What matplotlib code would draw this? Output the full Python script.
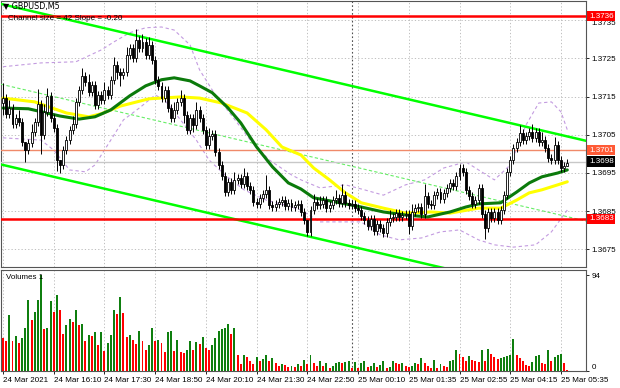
import numpy as np
import matplotlib.pyplot as plt
import matplotlib.transforms as mtransforms

plt.rcParams['font.family'] = ['Liberation Sans', 'DejaVu Sans']

# GBPUSD M5 bars, 24 Mar 2021 14:50 -> 25 Mar 05:40
first_open = 1.37133
close = [
    1.37146, 1.37105, 1.37120, 1.37078, 1.37094, 1.37084, 1.37031, 1.37010, 1.37029, 1.37057,
    1.37084, 1.37131, 1.37050, 1.37110, 1.37152, 1.37094, 1.37068, 1.36984, 1.36971, 1.37010,
    1.37036, 1.37063, 1.37078, 1.37136, 1.37167, 1.37204, 1.37188, 1.37162, 1.37180, 1.37128,
    1.37154,
    1.37141, 1.37167, 1.37154, 1.37194, 1.37233, 1.37215, 1.37207, 1.37215, 1.37259, 1.37277,
    1.37251, 1.37298, 1.37277, 1.37293, 1.37259, 1.37285, 1.37246, 1.37194, 1.37178, 1.37146,
    1.37167, 1.37120, 1.37094, 1.37115, 1.37136, 1.37146, 1.37102, 1.37063, 1.37094, 1.37076,
    1.37115, 1.37094, 1.37063, 1.37023, 1.37047, 1.37052, 1.37005, 1.36971, 1.36942, 1.36900,
    1.36926, 1.36906, 1.36932, 1.36937, 1.36921, 1.36942, 1.36916, 1.36906, 1.36874, 1.36869,
    1.36885, 1.36895, 1.36906, 1.36866, 1.36861, 1.36869, 1.36874, 1.36879, 1.36864, 1.36872,
    1.36861, 1.36866, 1.36869,
    1.36848, 1.36827, 1.36796, 1.36853, 1.36874, 1.36866, 1.36869, 1.36879, 1.36858, 1.36866,
    1.36879, 1.36885, 1.36872, 1.36892, 1.36872, 1.36866, 1.36869, 1.36858, 1.36853, 1.36838,
    1.36827, 1.36811, 1.36830, 1.36798, 1.36817, 1.36806, 1.36793, 1.36822, 1.36832, 1.36835,
    1.36845, 1.36835, 1.36840,
    1.36843, 1.36811, 1.36848, 1.36858, 1.36861, 1.36843, 1.36890, 1.36869, 1.36866, 1.36892,
    1.36900, 1.36882, 1.36898, 1.36911, 1.36924, 1.36916, 1.36942, 1.36963, 1.36953, 1.36906,
    1.36890, 1.36869, 1.36879, 1.36911, 1.36843, 1.36806, 1.36848, 1.36832, 1.36848, 1.36827,
    1.36853, 1.36892, 1.36953, 1.36984, 1.37016, 1.37031, 1.37055, 1.37036, 1.37047, 1.37057,
    1.37042, 1.37057, 1.37031, 1.37036, 1.37016, 1.36989, 1.36984, 1.37023, 1.36984, 1.36963,
    1.36968, 1.36976,
]
# wick length beyond the body, in pips
wick_up = [
    4, 1, 2, 1, 1, 2, 1, 0, 1, 2, 1, 4, 1, 2, 2, 1, 1, 1, 0, 1,
    1, 1, 2, 1, 1, 2, 1, 2, 1, 1, 1, 1, 2, 1, 1, 2, 1, 1, 1, 2,
    1, 1, 3, 1, 2, 1, 2, 1, 1, 1, 1, 1, 1, 1, 2, 1, 2, 1, 1, 1,
    1, 2, 1, 1, 1, 2, 1, 1, 1, 1, 1, 1, 1, 2, 1, 1, 2, 1, 1, 1,
    1, 1, 1, 4, 1, 1, 1, 1, 1, 1, 1, 1, 1, 1, 1, 1, 0, 1, 2, 1,
    2, 1, 1, 1, 1, 2, 1, 3, 1, 1, 1, 1, 1, 1, 1, 1, 1, 1, 1, 1,
    1, 1, 2, 1, 1, 1, 1, 1, 1, 2, 1, 1, 1, 3, 1, 1, 1, 1, 1, 1,
    1, 1, 1, 1, 1, 1, 1, 1, 1, 1, 1, 1, 1, 1, 1, 1, 1, 1, 1, 1,
    1, 1, 1, 2, 1, 1, 1, 2, 1, 1, 2, 1, 1, 1, 2, 1, 1, 1, 1,
]
wick_dn = [
    3, 1, 1, 1, 1, 1, 1, 3, 1, 1, 1, 1, 5, 1, 1, 1, 1, 3, 2, 1,
    1, 1, 1, 1, 1, 1, 1, 1, 1, 1, 1, 1, 1, 1, 1, 1, 2, 3, 1, 1,
    1, 1, 1, 1, 1, 1, 1, 1, 1, 1, 1, 1, 1, 1, 1, 1, 1, 2, 1, 1,
    2, 1, 1, 1, 1, 1, 1, 1, 1, 1, 1, 1, 1, 1, 1, 1, 1, 1, 1, 1,
    1, 1, 1, 1, 1, 1, 1, 1, 1, 1, 1, 1, 1, 1, 1, 1, 1, 1, 1, 1,
    1, 1, 1, 1, 1, 1, 1, 1, 1, 1, 1, 1, 1, 1, 1, 1, 1, 1, 1, 1,
    1, 1, 1, 1, 1, 1, 1, 1, 2, 1, 1, 1, 1, 1, 1, 1, 1, 1, 1, 1,
    1, 1, 1, 1, 1, 1, 1, 1, 1, 1, 1, 1, 3, 1, 1, 1, 1, 1, 1, 1,
    1, 1, 1, 1, 1, 1, 1, 1, 1, 1, 1, 1, 1, 1, 1, 1, 1, 1, 0,
]
volume = [
    32, 29, 55, 29, 34, 27, 32, 42, 70, 50, 58, 70, 94, 41, 42, 69, 58, 74, 60, 36,
    45, 51, 48, 60, 45, 46, 29, 35, 34, 38, 25, 38, 20, 27, 35, 60, 56, 72, 57, 33,
    35, 30, 26, 39, 29, 21, 25, 42, 29, 30, 27, 19, 38, 39, 20, 30, 19, 18, 21, 29,
    21, 28, 26, 33, 23, 21, 25, 32, 39, 41, 42, 46, 36, 42, 16, 7, 16, 14, 10, 7,
    14, 10, 12, 16, 10, 13, 8, 5, 7, 6, 4, 5, 4, 7, 5, 11, 7,
    16, 8, 5, 10, 5, 8, 3, 5, 8, 9, 8, 9, 10, 3, 9, 3, 8, 10, 4, 5,
    8, 4, 6, 10, 3, 4, 10, 8, 7, 8, 5, 4, 5, 8, 7, 13, 8, 5, 3, 11,
    3, 7, 5, 4, 10, 11, 21, 17, 14, 10, 15, 11, 10, 9, 21, 10, 22, 17, 14, 12,
    13, 14, 15, 16, 31, 16, 13, 10, 6, 5, 9, 15, 16, 8, 7, 21, 10, 14, 16, 17,
    8, 1,
]

time_labels = ['24 Mar 2021', '24 Mar 16:10', '24 Mar 17:30', '24 Mar 18:50',
               '24 Mar 20:10', '24 Mar 21:30', '24 Mar 22:50', '25 Mar 00:10',
               '25 Mar 01:35', '25 Mar 02:55', '25 Mar 04:15', '25 Mar 05:35']
label_step = 16
day_break = 110
price_ticks = [1.3675, 1.3685, 1.3695, 1.3705, 1.3715, 1.3725, 1.3735]

# moving averages (green = fast, yellow = slow), read at bar positions
ma_fast_idx = [0, 8, 18, 24, 29, 34, 40, 45, 50, 54, 59, 62, 66, 71, 75, 80, 85, 90,
               94, 98, 105, 113, 120, 127, 134, 141, 146, 150, 157, 162, 166, 170, 175, 178]
ma_fast = [1.37120, 1.37118, 1.37099, 1.37091, 1.37097, 1.37115, 1.37152, 1.37178,
           1.37194, 1.37199, 1.37191, 1.37178, 1.37160, 1.37120, 1.37081, 1.37018,
           1.36966, 1.36924, 1.36908, 1.36885, 1.36874, 1.36861, 1.36848, 1.36840,
           1.36835, 1.36848, 1.36861, 1.36869, 1.36872, 1.36900, 1.36924, 1.36940,
           1.36950, 1.36958]
ma_slow_idx = [0, 10, 20, 27, 31, 37, 46, 56, 62, 69, 77, 83, 88, 94, 98, 103, 108,
               113, 120, 127, 135, 141, 150, 157, 162, 166, 170, 175, 178]
ma_slow = [1.37146, 1.37136, 1.37107, 1.37097, 1.37105, 1.37125, 1.37144, 1.37149,
           1.37146, 1.37133, 1.37107, 1.37063, 1.37018, 1.36997, 1.36963, 1.36932,
           1.36898, 1.36872, 1.36858, 1.36845, 1.36848, 1.36845, 1.36858, 1.36858,
           1.36879, 1.36898, 1.36906, 1.36919, 1.36927]

# envelope bands (dashed violet)
band_up_idx = [0, 12, 23, 31, 35, 40, 45, 50, 54, 59, 62, 67, 72, 78, 84, 91, 94, 100,
               108, 114, 120, 127, 133, 139, 146, 150, 155, 160, 165, 169, 173, 176, 178]
band_up = [1.37228, 1.37238, 1.37241, 1.37272, 1.37293, 1.37317, 1.37330, 1.37332,
           1.37324, 1.37285, 1.37220, 1.37154, 1.37102, 1.37036, 1.36984, 1.36945,
           1.36932, 1.36911, 1.36919, 1.36906, 1.36892, 1.36919, 1.36932, 1.36963,
           1.36979, 1.36958, 1.36932, 1.36971, 1.37076, 1.37133, 1.37136, 1.37110,
           1.37063]
band_dn_idx = [0, 12, 16, 21, 26, 29, 34, 38, 43, 48, 51, 56, 61, 65, 70, 76, 83, 89,
               94, 100, 106, 113, 119, 125, 132, 138, 144, 150, 155, 161, 168, 173, 178]
band_dn = [1.37042, 1.37036, 1.37010, 1.36958, 1.36953, 1.36971, 1.37036, 1.37089,
           1.37120, 1.37154, 1.37141, 1.37089, 1.37036, 1.36984, 1.36945, 1.36906,
           1.36879, 1.36866, 1.36853, 1.36822, 1.36822, 1.36822, 1.36788, 1.36775,
           1.36780, 1.36796, 1.36801, 1.36775, 1.36762, 1.36756, 1.36762, 1.36796,
           1.36853]

# regression channel: top line at bar 0, slope per bar, width
chan_top0 = 1.37391
chan_slope = -0.0000194
chan_size = 0.0042

levels = [1.3736, 1.3701, 1.3698, 1.3683]
level_text = ['1.3736', '1.3701', '1.3698', '1.3683']
level_line = ['#ff0000', '#f08a6a', '#c8c8c8', '#ff0000']
level_box = ['#ff0000', '#ff5a36', '#000000', '#ff0000']
level_lw = [1.8, 1.0, 1.0, 1.8]

W, H = 620, 388
fig = plt.figure(figsize=(W / 100, H / 100), dpi=100)
ax = fig.add_axes([1 / W, 1 - 267 / H, 585 / W, 266 / H])
axv = fig.add_axes([1 / W, 1 - 371 / H, 585 / W, 101 / H])

n = len(close)
idx = np.arange(n)
c = np.array(close)
o = np.r_[first_open, c[:-1]]
pip = 0.0001
hi = np.maximum(o, c) + np.array(wick_up) * pip
lo = np.minimum(o, c) - np.array(wick_dn) * pip
x0, x1 = -0.63, 183.9

# grid
vticks = np.arange(len(time_labels)) * label_step
for a in (ax, axv):
    a.set_xlim(x0, x1)
    for v in vticks:
        a.axvline(v, color='#b4b4b4', ls=(0, (1.5, 2.5)), lw=0.6, zorder=0)
    a.axvline(day_break, color='#505050', ls=(0, (1.5, 2)), lw=0.8, zorder=0)
for p in price_ticks:
    ax.axhline(p, color='#b4b4b4', ls=(0, (1.5, 2.5)), lw=0.6, zorder=0)

# channel
xs = np.array([x0, x1])
top = chan_top0 + chan_slope * xs
ax.plot(xs, top, color='#00ff00', lw=1.8, zorder=4)
ax.plot(xs, top - chan_size, color='#00ff00', lw=1.8, zorder=4)
ax.plot(xs, top - chan_size / 2, color='#66ee66', lw=0.8, ls=(0, (3, 2)), zorder=4)

# bands and averages
ax.plot(band_up_idx, band_up, color='#c39be0', lw=0.8, ls=(0, (3, 2.5)), zorder=3)
ax.plot(band_dn_idx, band_dn, color='#c39be0', lw=0.8, ls=(0, (3, 2.5)), zorder=3)
ax.plot(ma_slow_idx, ma_slow, color='#ffff00', lw=2.2, zorder=5, solid_capstyle='round')
ax.plot(ma_fast_idx, ma_fast, color='#0b7a0b', lw=2.2, zorder=6, solid_capstyle='round')

# candles
ax.vlines(idx, lo, hi, color='black', lw=0.7, zorder=7)
up = c >= o
ax.bar(idx, c - o, bottom=o, width=0.62, color=np.where(up, 'white', 'black'),
       edgecolor='black', lw=0.6, zorder=8)

# horizontal levels
trans = mtransforms.blended_transform_factory(ax.transAxes, ax.transData)
for p, t, lc, bc, lw in zip(levels, level_text, level_line, level_box, level_lw):
    ax.axhline(p, color=lc, lw=lw, zorder=4)
    ax.text(1.0 + 3 / 585, p, t, transform=trans, color='white', fontsize=5.8,
            va='center', ha='left', zorder=10, clip_on=False,
            bbox=dict(boxstyle='square,pad=0.2', fc=bc, ec='none'))

ax.set_ylim(1.36704, 1.37400)
ax.yaxis.tick_right()
ax.set_yticks(price_ticks)
ax.set_yticklabels([f'{p:.4f}' for p in price_ticks])
ax.tick_params(axis='y', labelsize=5.8, length=2, pad=2, width=0.6)
# the top tick label sits just under the 1.3736 box, as in the terminal
ax.get_yticklabels()[-1].set_va('top')
ax.set_xticks([])
for s in ax.spines.values():
    s.set_color('#555555')
    s.set_linewidth(0.8)

# volumes
vol = np.array(volume)
vcol = np.where(np.r_[False, vol[1:] > vol[:-1]], '#0f7f0f', '#ff0000')
axv.bar(idx, vol, width=0.62, color=vcol, zorder=3)
axv.set_ylim(0, 98.9)
axv.yaxis.tick_right()
axv.set_yticks([0, 94])
axv.set_yticklabels(['0', '94'])
axv.tick_params(axis='y', labelsize=5.8, length=2, pad=2, width=0.6)
axv.get_yticklabels()[0].set_va('bottom')
axv.set_xticks(vticks)
axv.set_xticklabels(time_labels, ha='left')
axv.tick_params(axis='x', labelsize=5.8, length=2, pad=2, width=0.6)
for s in axv.spines.values():
    s.set_color('#555555')
    s.set_linewidth(0.8)
axv.text(5 / 585, 0.93, 'Volumes 1', transform=axv.transAxes, fontsize=5.8,
         va='center', ha='left', zorder=10)

fig.text(3 / W, 1 - 6 / H, '\u25bc GBPUSD,M5', fontsize=5.8, va='center', ha='left',
         family=['DejaVu Sans'])
fig.text(8 / W, 1 - 18 / H, 'Channel size = 42 Slope = -0.20', fontsize=5.8,
         va='center', ha='left')

fig.savefig('out.png', dpi=100)
